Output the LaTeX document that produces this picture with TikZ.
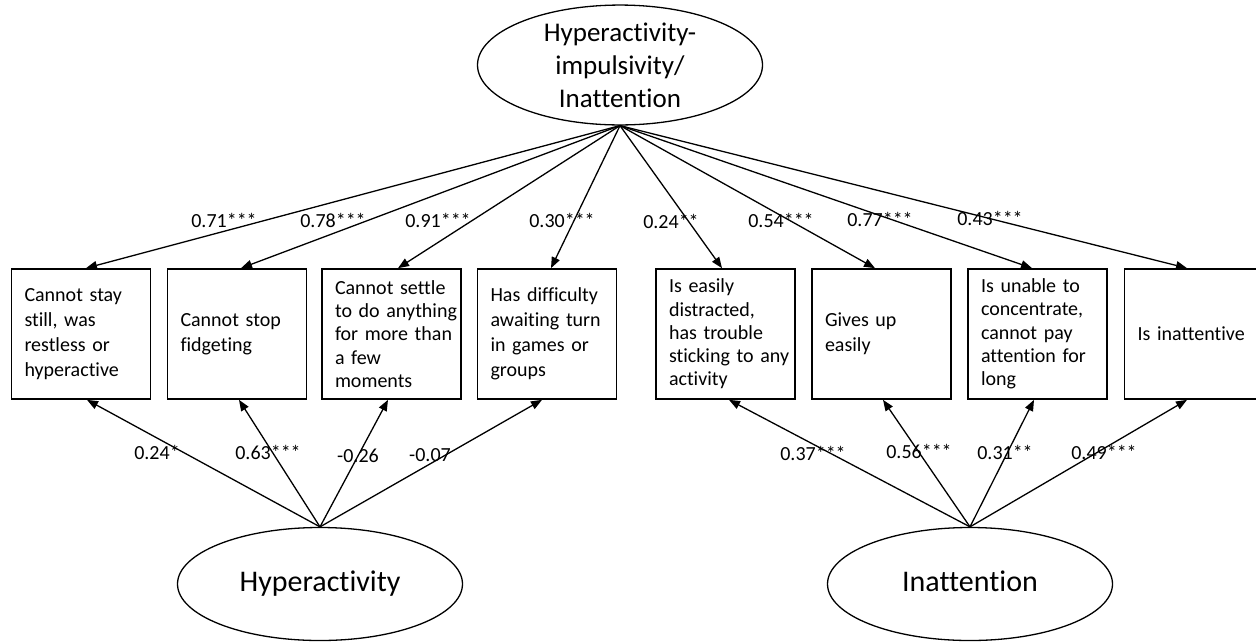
\documentclass[tikz,border=0pt]{standalone}
\usepackage{fontspec}
\setmainfont{Carlito}[Ligatures={NoCommon}]
\usetikzlibrary{shapes.geometric,arrows.meta}
\hyphenpenalty=10000
\exhyphenpenalty=10000
\begin{document}
\begin{tikzpicture}[x=1pt,y=-1pt,
  box/.style={draw,line width=1.7pt,minimum width=139pt,minimum height=130pt,
    text width=113pt,inner xsep=13pt,inner ysep=0pt,align=left,
    font=\fontsize{20}{25}\selectfont},
  tight/.style={font=\fontsize{20}{23.3}\selectfont},
  lat/.style={draw,ellipse,line width=1.3pt,minimum width=285pt,minimum height=113pt,
    inner sep=0pt,align=center},
  arr/.style={line width=1.3pt,-{Triangle[length=11pt,width=8.5pt]}},
  coef/.style={font=\fontsize{20}{24}\selectfont,inner sep=0pt}]
\useasboundingbox (0,0) rectangle (1256,641);

% latent variables
\node[lat,font=\fontsize{27}{33}\selectfont] (g) at (620,65) {Hyperactivity-\\impulsivity/\\Inattention};
\node[lat,font=\fontsize{30}{36}\selectfont] (h) at (320,584) {\strut Hyperactivity};
\node[lat,font=\fontsize{30}{36}\selectfont] (i) at (970,584) {\strut Inattention};

% indicators
\node[box] (b1) at (81,334) {Cannot~stay\\still,~was\\restless~or\\hyperactive};
\node[box] (b2) at (237,334) {Cannot~stop\\fidgeting};
\node[box,tight] (b3) at (391.5,334) {Cannot~settle\\to~do~anything\\for~more~than\\a~few\\moments};
\node[box] (b4) at (547,334) {Has~difficulty\\awaiting~turn\\in~games~or\\groups};
\node[box,tight] (b5) at (725.5,334) {Is~easily\\distracted,\\has~trouble\\sticking~to~any\\activity};
\node[box] (b6) at (881.5,334) {Gives~up\\easily};
\node[box,tight] (b7) at (1037.5,334) {Is~unable~to\\concentrate,\\cannot~pay\\attention~for\\long};
\node[box] (b8) at (1194,334) {Is~inattentive};

% general factor loadings
\draw[arr] (g.south) -- ([xshift=5pt]b1.north);
\draw[arr] (g.south) -- ([xshift=4pt]b2.north);
\draw[arr] (g.south) -- ([xshift=6.5pt]b3.north);
\draw[arr] (g.south) -- ([xshift=4pt]b4.north);
\draw[arr] (g.south) -- ([xshift=-3.5pt]b5.north);
\draw[arr] (g.south) -- ([xshift=-6.5pt]b6.north);
\draw[arr] (g.south) -- ([xshift=-5.5pt]b7.north);
\draw[arr] (g.south) -- ([xshift=-7pt]b8.north);

% specific factor loadings
\draw[arr] (h.north) -- ([xshift=6pt]b1.south);
\draw[arr] (h.north) -- ([xshift=2pt]b2.south);
\draw[arr] (h.north) -- ([xshift=-3.5pt]b3.south);
\draw[arr] (h.north) -- ([xshift=-5pt]b4.south);
\draw[arr] (i.north) -- ([xshift=3.5pt]b5.south);
\draw[arr] (i.north) -- ([xshift=1.5pt]b6.south);
\draw[arr] (i.north) -- ([xshift=-3.5pt]b7.south);
\draw[arr] (i.north) -- ([xshift=-7pt]b8.south);

% coefficients
\node[coef] (c1) at (224,220) {0.71***};
\node[coef] (c2) at (333,220) {0.78***};
\node[coef] (c3) at (438,220) {0.91***};
\node[coef] (c4) at (562,220) {0.30***};
\node[coef] (c5) at (671,221) {0.24**};
\node[coef] (c6) at (781,220) {0.54***};
\node[coef] (c7) at (880,219) {0.77***};
\node[coef] (c8) at (990,218) {0.43***};

\node[coef] (d1) at (157,452) {0.24*};
\node[coef] (d2) at (268,452) {0.63***};
\node[coef] (d3) at (358,456) {-0.26};
\node[coef] (d4) at (430,455) {-0.07};
\node[coef] (d5) at (813,453) {0.37***};
\node[coef] (d6) at (919,451) {0.56***};
\node[coef] (d7) at (1005,452) {0.31**};
\node[coef] (d8) at (1104,452) {0.49***};
\end{tikzpicture}
\end{document}
